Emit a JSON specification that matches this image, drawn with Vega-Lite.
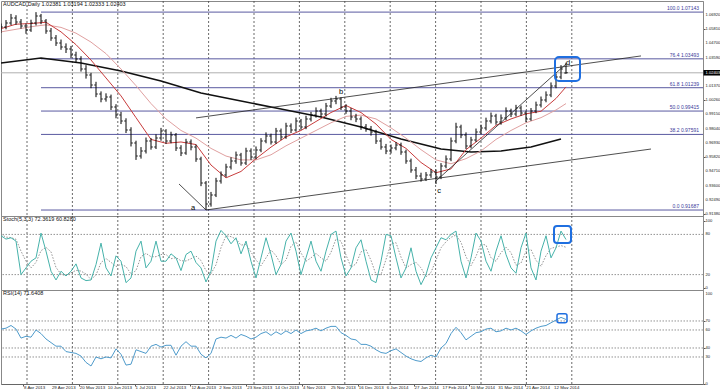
{
"$schema": "https://vega.github.io/schema/vega-lite/v6.json",
"padding": 0,
"spacing": 0,
"bounds": "flush",
"background": "white",
"config": {
  "view": {"stroke": "#888", "strokeWidth": 1},
  "font": "Liberation Sans",
  "axis": {"labels": false, "tickSize": 2, "tickColor": "#555", "domainColor": "#888", "grid": false, "title": null}
},
"datasets": {
  "bars": [
{"i":0,"o":1.0570,"h":1.0625,"l":1.0552,"c":1.0598,"st":78,"sg":80,"rsi":61},
{"i":1,"o":1.0598,"h":1.0652,"l":1.0580,"c":1.0630,"st":73,"sg":76,"rsi":62},
{"i":2,"o":1.0630,"h":1.0700,"l":1.0612,"c":1.0669,"st":75,"sg":75.3,"rsi":65},
{"i":3,"o":1.0669,"h":1.0690,"l":1.0615,"c":1.0637,"st":70,"sg":72.7,"rsi":61},
{"i":4,"o":1.0637,"h":1.0660,"l":1.0585,"c":1.0606,"st":20,"sg":55,"rsi":51},
{"i":5,"o":1.0606,"h":1.0625,"l":1.0545,"c":1.0575,"st":30,"sg":40,"rsi":53},
{"i":6,"o":1.0575,"h":1.0655,"l":1.0560,"c":1.0630,"st":40,"sg":30,"rsi":52},
{"i":7,"o":1.0630,"h":1.0714,"l":1.0610,"c":1.0684,"st":45,"sg":38.3,"rsi":60},
{"i":8,"o":1.0684,"h":1.0700,"l":1.0620,"c":1.0645,"st":82,"sg":55.7,"rsi":56},
{"i":9,"o":1.0645,"h":1.0660,"l":1.0545,"c":1.0567,"st":55,"sg":60.7,"rsi":50},
{"i":10,"o":1.0567,"h":1.0590,"l":1.0490,"c":1.0512,"st":25,"sg":54,"rsi":46},
{"i":11,"o":1.0512,"h":1.0535,"l":1.0450,"c":1.0473,"st":12,"sg":30.7,"rsi":42},
{"i":12,"o":1.0473,"h":1.0500,"l":1.0420,"c":1.0442,"st":25,"sg":20.7,"rsi":42},
{"i":13,"o":1.0442,"h":1.0470,"l":1.0395,"c":1.0426,"st":18,"sg":18.3,"rsi":36},
{"i":14,"o":1.0426,"h":1.0450,"l":1.0355,"c":1.0380,"st":25,"sg":22.7,"rsi":35},
{"i":15,"o":1.0380,"h":1.0405,"l":1.0320,"c":1.0348,"st":36,"sg":26.3,"rsi":34},
{"i":16,"o":1.0348,"h":1.0370,"l":1.0250,"c":1.0270,"st":15,"sg":25.3,"rsi":31},
{"i":17,"o":1.0270,"h":1.0300,"l":1.0195,"c":1.0223,"st":11,"sg":20.7,"rsi":24},
{"i":18,"o":1.0223,"h":1.0240,"l":1.0120,"c":1.0145,"st":12,"sg":12.7,"rsi":20},
{"i":19,"o":1.0145,"h":1.0170,"l":1.0050,"c":1.0075,"st":35,"sg":19.3,"rsi":30},
{"i":20,"o":1.0075,"h":1.0095,"l":1.0010,"c":1.0036,"st":67,"sg":38,"rsi":28},
{"i":21,"o":1.0036,"h":1.0080,"l":1.0015,"c":1.0052,"st":30,"sg":44,"rsi":30},
{"i":22,"o":1.0052,"h":1.0070,"l":0.9950,"c":0.9973,"st":18,"sg":38.3,"rsi":29},
{"i":23,"o":0.9973,"h":0.9995,"l":0.9885,"c":0.9911,"st":48,"sg":32,"rsi":39},
{"i":24,"o":0.9911,"h":0.9935,"l":0.9840,"c":0.9864,"st":40,"sg":35.3,"rsi":33},
{"i":25,"o":0.9864,"h":0.9885,"l":0.9770,"c":0.9794,"st":8,"sg":32,"rsi":21},
{"i":26,"o":0.9794,"h":0.9815,"l":0.9665,"c":0.9692,"st":15,"sg":21,"rsi":22},
{"i":27,"o":0.9692,"h":0.9710,"l":0.9560,"c":0.9591,"st":55,"sg":26,"rsi":38},
{"i":28,"o":0.9591,"h":0.9660,"l":0.9570,"c":0.9630,"st":70,"sg":46.7,"rsi":36},
{"i":29,"o":0.9630,"h":0.9735,"l":0.9610,"c":0.9708,"st":30,"sg":51.7,"rsi":34},
{"i":30,"o":0.9708,"h":0.9730,"l":0.9640,"c":0.9661,"st":40,"sg":46.7,"rsi":42},
{"i":31,"o":0.9661,"h":0.9760,"l":0.9645,"c":0.9731,"st":70,"sg":46.7,"rsi":44},
{"i":32,"o":0.9731,"h":0.9810,"l":0.9710,"c":0.9786,"st":40,"sg":50,"rsi":41},
{"i":33,"o":0.9786,"h":0.9800,"l":0.9685,"c":0.9708,"st":40,"sg":50,"rsi":43},
{"i":34,"o":0.9708,"h":0.9780,"l":0.9690,"c":0.9755,"st":51,"sg":43.7,"rsi":43},
{"i":35,"o":0.9755,"h":0.9770,"l":0.9630,"c":0.9653,"st":45,"sg":45.3,"rsi":32},
{"i":36,"o":0.9653,"h":0.9675,"l":0.9590,"c":0.9614,"st":26,"sg":40.7,"rsi":42},
{"i":37,"o":0.9614,"h":0.9725,"l":0.9600,"c":0.9700,"st":50,"sg":40.3,"rsi":47},
{"i":38,"o":0.9700,"h":0.9720,"l":0.9635,"c":0.9661,"st":55,"sg":43.7,"rsi":42},
{"i":39,"o":0.9661,"h":0.9680,"l":0.9545,"c":0.9567,"st":38,"sg":47.7,"rsi":42},
{"i":40,"o":0.9567,"h":0.9585,"l":0.9355,"c":0.9380,"st":30,"sg":41,"rsi":33},
{"i":41,"o":0.9380,"h":0.9395,"l":0.9169,"c":0.9216,"st":9,"sg":25.7,"rsi":29},
{"i":42,"o":0.9216,"h":0.9310,"l":0.9195,"c":0.9286,"st":25,"sg":21.3,"rsi":34},
{"i":43,"o":0.9286,"h":0.9420,"l":0.9270,"c":0.9396,"st":70,"sg":34.7,"rsi":50},
{"i":44,"o":0.9396,"h":0.9470,"l":0.9375,"c":0.9442,"st":86,"sg":60.3,"rsi":52},
{"i":45,"o":0.9442,"h":0.9530,"l":0.9425,"c":0.9505,"st":78,"sg":78,"rsi":51},
{"i":46,"o":0.9505,"h":0.9580,"l":0.9485,"c":0.9552,"st":66,"sg":76.7,"rsi":54},
{"i":47,"o":0.9552,"h":0.9625,"l":0.9530,"c":0.9599,"st":75,"sg":73,"rsi":51},
{"i":48,"o":0.9599,"h":0.9615,"l":0.9515,"c":0.9536,"st":51,"sg":64,"rsi":55},
{"i":49,"o":0.9536,"h":0.9655,"l":0.9520,"c":0.9630,"st":70,"sg":65.3,"rsi":53},
{"i":50,"o":0.9630,"h":0.9650,"l":0.9560,"c":0.9583,"st":40,"sg":53.7,"rsi":50},
{"i":51,"o":0.9583,"h":0.9665,"l":0.9565,"c":0.9638,"st":15,"sg":41.7,"rsi":52},
{"i":52,"o":0.9638,"h":0.9730,"l":0.9620,"c":0.9708,"st":45,"sg":33.3,"rsi":56},
{"i":53,"o":0.9708,"h":0.9775,"l":0.9690,"c":0.9747,"st":75,"sg":45,"rsi":58},
{"i":54,"o":0.9747,"h":0.9765,"l":0.9680,"c":0.9700,"st":50,"sg":56.7,"rsi":54},
{"i":55,"o":0.9700,"h":0.9810,"l":0.9685,"c":0.9786,"st":20,"sg":48.3,"rsi":58},
{"i":56,"o":0.9786,"h":0.9805,"l":0.9715,"c":0.9739,"st":35,"sg":35,"rsi":55},
{"i":57,"o":0.9739,"h":0.9850,"l":0.9725,"c":0.9825,"st":70,"sg":41.7,"rsi":59},
{"i":58,"o":0.9825,"h":0.9845,"l":0.9770,"c":0.9794,"st":82,"sg":62.3,"rsi":56},
{"i":59,"o":0.9794,"h":0.9890,"l":0.9780,"c":0.9864,"st":55,"sg":69,"rsi":60},
{"i":60,"o":0.9864,"h":0.9880,"l":0.9795,"c":0.9817,"st":20,"sg":52.3,"rsi":56},
{"i":61,"o":0.9817,"h":0.9905,"l":0.9800,"c":0.9880,"st":45,"sg":40,"rsi":59},
{"i":62,"o":0.9880,"h":0.9935,"l":0.9860,"c":0.9911,"st":70,"sg":45,"rsi":60},
{"i":63,"o":0.9911,"h":0.9970,"l":0.9890,"c":0.9942,"st":40,"sg":51.7,"rsi":62},
{"i":64,"o":0.9942,"h":0.9960,"l":0.9895,"c":0.9919,"st":25,"sg":45,"rsi":59},
{"i":65,"o":0.9919,"h":1.0005,"l":0.9900,"c":0.9981,"st":55,"sg":40,"rsi":62},
{"i":66,"o":0.9981,"h":1.0045,"l":0.9965,"c":1.0020,"st":80,"sg":53.3,"rsi":64},
{"i":67,"o":1.0020,"h":1.0060,"l":0.9995,"c":1.0036,"st":85,"sg":73.3,"rsi":64},
{"i":68,"o":1.0036,"h":1.0050,"l":0.9950,"c":0.9973,"st":45,"sg":70,"rsi":57},
{"i":69,"o":0.9973,"h":0.9995,"l":0.9920,"c":0.9942,"st":18,"sg":49.3,"rsi":54},
{"i":70,"o":0.9942,"h":0.9965,"l":0.9870,"c":0.9895,"st":30,"sg":31,"rsi":50},
{"i":71,"o":0.9895,"h":0.9920,"l":0.9855,"c":0.9880,"st":60,"sg":36,"rsi":49},
{"i":72,"o":0.9880,"h":0.9900,"l":0.9795,"c":0.9817,"st":72,"sg":54,"rsi":44},
{"i":73,"o":0.9817,"h":0.9840,"l":0.9780,"c":0.9802,"st":40,"sg":57.3,"rsi":44},
{"i":74,"o":0.9802,"h":0.9825,"l":0.9750,"c":0.9778,"st":12,"sg":41.3,"rsi":42},
{"i":75,"o":0.9778,"h":0.9795,"l":0.9685,"c":0.9708,"st":8,"sg":20,"rsi":38},
{"i":76,"o":0.9708,"h":0.9730,"l":0.9640,"c":0.9661,"st":40,"sg":20,"rsi":35},
{"i":77,"o":0.9661,"h":0.9685,"l":0.9605,"c":0.9630,"st":80,"sg":42.7,"rsi":34},
{"i":78,"o":0.9630,"h":0.9680,"l":0.9610,"c":0.9653,"st":78,"sg":66,"rsi":37},
{"i":79,"o":0.9653,"h":0.9700,"l":0.9635,"c":0.9677,"st":45,"sg":67.7,"rsi":39},
{"i":80,"o":0.9677,"h":0.9695,"l":0.9600,"c":0.9622,"st":15,"sg":46,"rsi":35},
{"i":81,"o":0.9622,"h":0.9640,"l":0.9530,"c":0.9552,"st":30,"sg":30,"rsi":31},
{"i":82,"o":0.9552,"h":0.9570,"l":0.9460,"c":0.9481,"st":60,"sg":35,"rsi":28},
{"i":83,"o":0.9481,"h":0.9505,"l":0.9410,"c":0.9435,"st":25,"sg":38.3,"rsi":26},
{"i":84,"o":0.9435,"h":0.9460,"l":0.9390,"c":0.9411,"st":5,"sg":30,"rsi":25},
{"i":85,"o":0.9411,"h":0.9465,"l":0.9395,"c":0.9442,"st":20,"sg":16.7,"rsi":29},
{"i":86,"o":0.9442,"h":0.9490,"l":0.9420,"c":0.9466,"st":45,"sg":23.3,"rsi":32},
{"i":87,"o":0.9466,"h":0.9485,"l":0.9372,"c":0.9427,"st":60,"sg":41.7,"rsi":30},
{"i":88,"o":0.9427,"h":0.9535,"l":0.9410,"c":0.9513,"st":75,"sg":60,"rsi":40},
{"i":89,"o":0.9513,"h":0.9595,"l":0.9495,"c":0.9567,"st":72,"sg":69,"rsi":45},
{"i":90,"o":0.9567,"h":0.9735,"l":0.9550,"c":0.9708,"st":80,"sg":75.7,"rsi":56},
{"i":91,"o":0.9708,"h":0.9850,"l":0.9690,"c":0.9817,"st":85,"sg":79,"rsi":63},
{"i":92,"o":0.9817,"h":0.9835,"l":0.9730,"c":0.9755,"st":40,"sg":68.3,"rsi":57},
{"i":93,"o":0.9755,"h":0.9775,"l":0.9645,"c":0.9669,"st":15,"sg":46.7,"rsi":49},
{"i":94,"o":0.9669,"h":0.9740,"l":0.9650,"c":0.9716,"st":45,"sg":33.3,"rsi":53},
{"i":95,"o":0.9716,"h":0.9805,"l":0.9700,"c":0.9778,"st":82,"sg":47.3,"rsi":57},
{"i":96,"o":0.9778,"h":0.9835,"l":0.9760,"c":0.9809,"st":70,"sg":65.7,"rsi":58},
{"i":97,"o":0.9809,"h":0.9890,"l":0.9790,"c":0.9864,"st":40,"sg":64,"rsi":61},
{"i":98,"o":0.9864,"h":0.9930,"l":0.9845,"c":0.9903,"st":25,"sg":45,"rsi":62},
{"i":99,"o":0.9903,"h":0.9920,"l":0.9835,"c":0.9856,"st":55,"sg":40,"rsi":58},
{"i":100,"o":0.9856,"h":0.9915,"l":0.9835,"c":0.9888,"st":78,"sg":52.7,"rsi":59},
{"i":101,"o":0.9888,"h":0.9970,"l":0.9870,"c":0.9942,"st":50,"sg":61,"rsi":62},
{"i":102,"o":0.9942,"h":0.9960,"l":0.9895,"c":0.9919,"st":30,"sg":52.7,"rsi":60},
{"i":103,"o":0.9919,"h":0.9990,"l":0.9900,"c":0.9966,"st":22,"sg":34,"rsi":62},
{"i":104,"o":0.9966,"h":0.9985,"l":0.9905,"c":0.9927,"st":60,"sg":37.3,"rsi":59},
{"i":105,"o":0.9927,"h":0.9945,"l":0.9855,"c":0.9880,"st":82,"sg":54.7,"rsi":55},
{"i":106,"o":0.9880,"h":0.9965,"l":0.9865,"c":0.9942,"st":30,"sg":57.3,"rsi":59},
{"i":107,"o":0.9942,"h":1.0015,"l":0.9925,"c":0.9989,"st":12,"sg":41.3,"rsi":62},
{"i":108,"o":0.9989,"h":1.0055,"l":0.9970,"c":1.0028,"st":55,"sg":32.3,"rsi":64},
{"i":109,"o":1.0028,"h":1.0095,"l":1.0010,"c":1.0067,"st":78,"sg":48.3,"rsi":65},
{"i":110,"o":1.0067,"h":1.0165,"l":1.0050,"c":1.0137,"st":45,"sg":59.3,"rsi":68},
{"i":111,"o":1.0137,"h":1.0235,"l":1.0120,"c":1.0208,"st":60,"sg":61,"rsi":71},
{"i":112,"o":1.0208,"h":1.0300,"l":1.0190,"c":1.0270,"st":85,"sg":63.3,"rsi":74},
{"i":113,"o":1.0238,"h":1.0319,"l":1.0233,"c":1.0240,"st":72.36,"sg":60.83,"rsi":71.64}
  ],
  "ma": [
{"i":0,"m1":1.0585,"m2":1.0560},{"i":3,"m1":1.0620,"m2":1.0580},{"i":6,"m1":1.0625,"m2":1.0600},
{"i":9,"m1":1.0635,"m2":1.0615},{"i":12,"m1":1.0560,"m2":1.0595},{"i":15,"m1":1.0460,"m2":1.0550},
{"i":18,"m1":1.0340,"m2":1.0480},{"i":21,"m1":1.0200,"m2":1.0390},{"i":24,"m1":1.0060,"m2":1.0270},
{"i":27,"m1":0.9890,"m2":1.0140},{"i":30,"m1":0.9720,"m2":1.0000},{"i":33,"m1":0.9690,"m2":0.9880},
{"i":36,"m1":0.9700,"m2":0.9790},{"i":39,"m1":0.9680,"m2":0.9730},{"i":42,"m1":0.9520,"m2":0.9650},
{"i":45,"m1":0.9420,"m2":0.9590},{"i":48,"m1":0.9470,"m2":0.9560},{"i":51,"m1":0.9570,"m2":0.9560},
{"i":54,"m1":0.9660,"m2":0.9600},{"i":57,"m1":0.9740,"m2":0.9670},{"i":60,"m1":0.9790,"m2":0.9730},
{"i":63,"m1":0.9860,"m2":0.9790},{"i":66,"m1":0.9930,"m2":0.9850},{"i":69,"m1":0.9985,"m2":0.9900},
{"i":72,"m1":0.9930,"m2":0.9910},{"i":75,"m1":0.9840,"m2":0.9880},{"i":78,"m1":0.9720,"m2":0.9810},
{"i":81,"m1":0.9650,"m2":0.9730},{"i":84,"m1":0.9540,"m2":0.9640},{"i":87,"m1":0.9460,"m2":0.9560},
{"i":90,"m1":0.9490,"m2":0.9530},{"i":93,"m1":0.9640,"m2":0.9570},{"i":96,"m1":0.9730,"m2":0.9630},
{"i":99,"m1":0.9830,"m2":0.9720},{"i":102,"m1":0.9880,"m2":0.9790},{"i":105,"m1":0.9920,"m2":0.9850},
{"i":108,"m1":0.9940,"m2":0.9890},{"i":111,"m1":1.0040,"m2":0.9950},{"i":113,"m1":1.0130,"m2":1.0000}
  ],
  "ma200": [
{"i":0,"v":1.0317},{"i":8,"v":1.0356},{"i":16,"v":1.0317},{"i":24,"v":1.0255},{"i":32,"v":1.0177},
{"i":40,"v":1.0082},{"i":48,"v":1.0020},{"i":56,"v":0.9958},{"i":64,"v":0.9895},{"i":72,"v":0.9817},
{"i":80,"v":0.9724},{"i":88,"v":0.9645},{"i":94,"v":0.9622},{"i":100,"v":0.9630},{"i":106,"v":0.9661},
{"i":112,"v":0.9724}
  ],
  "fib": [
{"lv":1.07143,"t":"100.0 1.07143"},{"lv":1.03493,"t":"76.4 1.03493"},{"lv":1.01239,"t":"61.8 1.01239"},
{"lv":0.99415,"t":"50.0 0.99415"},{"lv":0.97591,"t":"38.2 0.97591"},{"lv":0.91687,"t":"0.0 0.91687"}
  ],
  "tl": [
{"id":"u","i":39,"p":0.9888},{"id":"u","i":128,"p":1.0372},
{"id":"lo","i":41,"p":0.9169},{"id":"lo","i":130,"p":0.9645},
{"id":"cd","i":87,"p":0.9396},{"id":"cd","i":113,"p":1.0309},
{"id":"za","i":35.6,"p":0.9372},{"id":"za","i":41,"p":0.9169}
  ],
  "lbl": [
{"t":"a","i":38.4,"p":0.9185},{"t":"b","i":68,"p":1.0091},{"t":"c","i":87.6,"p":0.9318},{"t":"d","i":113.4,"p":1.0317}
  ],
  "grid": [
{"g":5.2},{"g":14.28},{"g":23.36},{"g":32.44},{"g":41.52},{"g":50.6},{"g":59.68},{"g":68.76},{"g":77.84},{"g":86.92},{"g":96},{"g":105.08},{"g":114.16}
  ],
  "ylab": [
{"v":0.9138},{"v":0.9249},{"v":0.936},{"v":0.9471},{"v":0.9582},{"v":0.9693},{"v":0.9804},{"v":0.9915},
{"v":1.0026},{"v":1.0137},{"v":1.0359},{"v":1.047},{"v":1.0581},{"v":1.0692}
  ],
  "dates": [
{"x":4.4,"t":"8 Apr 2013"},{"x":9.98,"t":"29 Apr 2013"},{"x":15.56,"t":"20 May 2013"},{"x":21.14,"t":"10 Jun 2013"},
{"x":26.72,"t":"1 Jul 2013"},{"x":32.3,"t":"22 Jul 2013"},{"x":37.88,"t":"12 Aug 2013"},{"x":43.46,"t":"2 Sep 2013"},
{"x":49.04,"t":"23 Sep 2013"},{"x":54.62,"t":"14 Oct 2013"},{"x":60.2,"t":"4 Nov 2013"},{"x":65.78,"t":"25 Nov 2013"},
{"x":71.36,"t":"16 Dec 2013"},{"x":76.94,"t":"6 Jan 2014"},{"x":82.52,"t":"27 Jan 2014"},{"x":88.1,"t":"17 Feb 2014"},
{"x":93.68,"t":"10 Mar 2014"},{"x":99.26,"t":"31 Mar 2014"},{"x":104.84,"t":"21 Apr 2014"},{"x":110.42,"t":"12 May 2014"}
  ]
},
"vconcat": [
{
  "width": 702, "height": 215,
  "layer": [
    {"data": {"name": "grid"}, "mark": {"type": "rule", "color": "#444", "strokeWidth": 0.8, "strokeDash": [2, 2]},
     "encoding": {"x": {"field": "g", "type": "quantitative", "scale": {"domain": [0, 140.4], "nice": false, "zero": false}, "axis": null}}},
    {"data": {"name": "ylab"}, "mark": {"type": "text", "fontSize": 4.1, "color": "#222", "align": "left", "baseline": "middle", "dx": 2.5},
     "encoding": {"x": {"datum": 140.4, "type": "quantitative"},
       "y": {"field": "v", "type": "quantitative", "scale": {"domain": [0.9122, 1.0801], "nice": false, "zero": false},
         "axis": {"orient": "right", "values": [0.9138, 0.9249, 0.936, 0.9471, 0.9582, 0.9693, 0.9804, 0.9915, 1.0026, 1.0137, 1.0359, 1.047, 1.0581, 1.0692]}},
       "text": {"field": "v", "type": "quantitative", "format": ".5f"}}},
    {"data": {"values": [{"a": 1.0262, "b": 1.0219}]}, "mark": {"type": "rect", "color": "#000", "clip": false},
     "encoding": {"x": {"datum": 140.5, "type": "quantitative"}, "x2": {"datum": 144}, "y": {"field": "a", "type": "quantitative"}, "y2": {"field": "b"}}},
    {"data": {"values": [{"p": 1.02403}]}, "mark": {"type": "text", "fontSize": 4.1, "color": "#fff", "align": "left", "baseline": "middle", "dx": 2.5},
     "encoding": {"x": {"datum": 140.4, "type": "quantitative"}, "y": {"field": "p", "type": "quantitative"}, "text": {"field": "p", "type": "quantitative", "format": ".5f"}}},
    {"data": {"name": "fib"}, "mark": {"type": "rule", "color": "#5a5aa0", "strokeWidth": 1, "clip": true},
     "encoding": {"x": {"datum": 8, "type": "quantitative"}, "x2": {"datum": 140.4}, "y": {"field": "lv", "type": "quantitative"}}},
    {"data": {"name": "fib"}, "mark": {"type": "text", "fontSize": 5, "color": "#3a3a9a", "align": "right", "baseline": "bottom", "dy": -1},
     "encoding": {"x": {"datum": 139.6, "type": "quantitative"}, "y": {"field": "lv", "type": "quantitative"}, "text": {"field": "t"}}},
    {"data": {"values": [{"t": "AUDCAD,Daily  1.02381 1.03194 1.02333 1.02403"}]}, "mark": {"type": "text", "fontSize": 5.5, "color": "#111", "align": "left", "baseline": "top", "dy": 1},
     "encoding": {"x": {"datum": 0.4, "type": "quantitative"}, "y": {"datum": 1.0801, "type": "quantitative"}, "text": {"field": "t"}}},
    {"data": {"values": [{"p": 1.02403}]}, "mark": {"type": "rule", "color": "#b0b0b0", "strokeWidth": 1},
     "encoding": {"y": {"field": "p", "type": "quantitative"}}},
    {"data": {"name": "ma200"}, "mark": {"type": "line", "color": "#111", "strokeWidth": 1.6, "clip": true},
     "encoding": {"x": {"field": "i", "type": "quantitative"}, "y": {"field": "v", "type": "quantitative"}}},
    {"data": {"name": "ma"}, "mark": {"type": "line", "color": "#e0a0a0", "strokeWidth": 1, "clip": true},
     "encoding": {"x": {"field": "i", "type": "quantitative"}, "y": {"field": "m2", "type": "quantitative"}}},
    {"data": {"name": "ma"}, "mark": {"type": "line", "color": "#c83c3c", "strokeWidth": 1, "clip": true},
     "encoding": {"x": {"field": "i", "type": "quantitative"}, "y": {"field": "m1", "type": "quantitative"}}},
    {"data": {"name": "bars"}, "mark": {"type": "rule", "color": "#000", "strokeWidth": 1, "clip": true},
     "encoding": {"x": {"field": "i", "type": "quantitative"}, "y": {"field": "l", "type": "quantitative"}, "y2": {"field": "h"}}},
    {"data": {"name": "bars"}, "mark": {"type": "tick", "orient": "horizontal", "color": "#000", "size": 2, "thickness": 1, "xOffset": -1, "clip": true},
     "encoding": {"x": {"field": "i", "type": "quantitative"}, "y": {"field": "o", "type": "quantitative"}}},
    {"data": {"name": "bars"}, "mark": {"type": "tick", "orient": "horizontal", "color": "#000", "size": 2, "thickness": 1, "xOffset": 1, "clip": true},
     "encoding": {"x": {"field": "i", "type": "quantitative"}, "y": {"field": "c", "type": "quantitative"}}},
    {"data": {"name": "tl"}, "mark": {"type": "line", "color": "#222", "strokeWidth": 0.8, "clip": true},
     "encoding": {"x": {"field": "i", "type": "quantitative"}, "y": {"field": "p", "type": "quantitative"}, "detail": {"field": "id"}}},
    {"data": {"name": "lbl"}, "mark": {"type": "text", "fontSize": 7.5, "color": "#000"},
     "encoding": {"x": {"field": "i", "type": "quantitative"}, "y": {"field": "p", "type": "quantitative"}, "text": {"field": "t"}}},
    {"data": {"values": [{"i1": 110.8, "i2": 115.8, "p1": 1.0176, "p2": 1.0364}]}, "mark": {"type": "rect", "filled": false, "stroke": "#1f6fe0", "strokeWidth": 2, "cornerRadius": 4},
     "encoding": {"x": {"field": "i1", "type": "quantitative"}, "x2": {"field": "i2"}, "y": {"field": "p1", "type": "quantitative"}, "y2": {"field": "p2"}}}
  ]
},
{
  "width": 702, "height": 74,
  "layer": [
    {"data": {"name": "grid"}, "mark": {"type": "rule", "color": "#444", "strokeWidth": 0.8, "strokeDash": [2, 2]},
     "encoding": {"x": {"field": "g", "type": "quantitative", "scale": {"domain": [0, 140.4], "nice": false, "zero": false}, "axis": null}}},
    {"data": {"values": [{"v": 20}, {"v": 80}]}, "mark": {"type": "rule", "color": "#777", "strokeWidth": 0.8, "strokeDash": [1.5, 1.5]},
     "encoding": {"y": {"field": "v", "type": "quantitative", "scale": {"domain": [-3, 107.5], "nice": false, "zero": false},
       "axis": {"orient": "right", "values": [0, 20, 80, 100]}}}},
    {"data": {"values": [{"v": 0}, {"v": 20}, {"v": 80}, {"v": 100}]}, "mark": {"type": "text", "fontSize": 4.1, "color": "#222", "align": "left", "baseline": "middle", "dx": 2.5},
     "encoding": {"x": {"datum": 140.4, "type": "quantitative"}, "y": {"field": "v", "type": "quantitative"}, "text": {"field": "v", "type": "quantitative"}}},
    {"data": {"values": [{"t": "Stoch(5,3,3) 72.3619 60.8280"}]}, "mark": {"type": "text", "fontSize": 5.5, "color": "#111", "align": "left", "baseline": "top", "dy": 1},
     "encoding": {"x": {"datum": 0.4, "type": "quantitative"}, "y": {"datum": 107.5, "type": "quantitative"}, "text": {"field": "t"}}},
    {"data": {"name": "bars"}, "mark": {"type": "line", "color": "#888", "strokeWidth": 0.9, "strokeDash": [1.5, 1.5], "clip": true},
     "encoding": {"x": {"field": "i", "type": "quantitative"}, "y": {"field": "sg", "type": "quantitative"}}},
    {"data": {"name": "bars"}, "mark": {"type": "line", "color": "#46b2aa", "strokeWidth": 1, "clip": true},
     "encoding": {"x": {"field": "i", "type": "quantitative"}, "y": {"field": "st", "type": "quantitative"}}},
    {"data": {"values": [{"i1": 110.6, "i2": 114, "v1": 67, "v2": 92.5}]}, "mark": {"type": "rect", "filled": false, "stroke": "#1f6fe0", "strokeWidth": 2, "cornerRadius": 3},
     "encoding": {"x": {"field": "i1", "type": "quantitative"}, "x2": {"field": "i2"}, "y": {"field": "v1", "type": "quantitative"}, "y2": {"field": "v2"}}}
  ]
},
{
  "width": 702, "height": 94,
  "layer": [
    {"data": {"name": "grid"}, "mark": {"type": "rule", "color": "#444", "strokeWidth": 0.8, "strokeDash": [2, 2]},
     "encoding": {"x": {"field": "g", "type": "quantitative", "scale": {"domain": [0, 140.4], "nice": false, "zero": false},
       "axis": {"orient": "bottom", "values": [4.4, 9.98, 15.56, 21.14, 26.72, 32.3, 37.88, 43.46, 49.04, 54.62, 60.2, 65.78, 71.36, 76.94, 82.52, 88.1, 93.68, 99.26, 104.84, 110.42], "domainColor": "#666"}}}},
    {"data": {"values": [{"v": 30}, {"v": 40}, {"v": 60}, {"v": 70}]}, "mark": {"type": "rule", "color": "#777", "strokeWidth": 0.8, "strokeDash": [1.5, 1.5]},
     "encoding": {"y": {"field": "v", "type": "quantitative", "scale": {"domain": [0, 104.4], "nice": false, "zero": false},
       "axis": {"orient": "right", "values": [0, 30, 40, 60, 70, 100]}}}},
    {"data": {"values": [{"v": 0}, {"v": 30}, {"v": 40}, {"v": 60}, {"v": 70}, {"v": 100}]}, "mark": {"type": "text", "fontSize": 4.1, "color": "#222", "align": "left", "baseline": "middle", "dx": 2.5},
     "encoding": {"x": {"datum": 140.4, "type": "quantitative"}, "y": {"field": "v", "type": "quantitative"}, "text": {"field": "v", "type": "quantitative"}}},
    {"data": {"name": "dates"}, "mark": {"type": "text", "fontSize": 4.4, "color": "#222", "align": "left", "baseline": "top", "dx": 1, "dy": 1.5},
     "encoding": {"x": {"field": "x", "type": "quantitative"}, "y": {"datum": 0, "type": "quantitative"}, "text": {"field": "t"}}},
    {"data": {"values": [{"t": "RSI(14) 71.6408"}]}, "mark": {"type": "text", "fontSize": 5.5, "color": "#111", "align": "left", "baseline": "top", "dy": 1},
     "encoding": {"x": {"datum": 0.4, "type": "quantitative"}, "y": {"datum": 104.4, "type": "quantitative"}, "text": {"field": "t"}}},
    {"data": {"name": "bars"}, "mark": {"type": "line", "color": "#4f9bcb", "strokeWidth": 1, "clip": true},
     "encoding": {"x": {"field": "i", "type": "quantitative"}, "y": {"field": "rsi", "type": "quantitative"}}},
    {"data": {"values": [{"i1": 111.2, "i2": 113.2, "v1": 68, "v2": 78}]}, "mark": {"type": "rect", "filled": false, "stroke": "#1f6fe0", "strokeWidth": 1.5, "cornerRadius": 2},
     "encoding": {"x": {"field": "i1", "type": "quantitative"}, "x2": {"field": "i2"}, "y": {"field": "v1", "type": "quantitative"}, "y2": {"field": "v2"}}}
  ]
}
]
}
